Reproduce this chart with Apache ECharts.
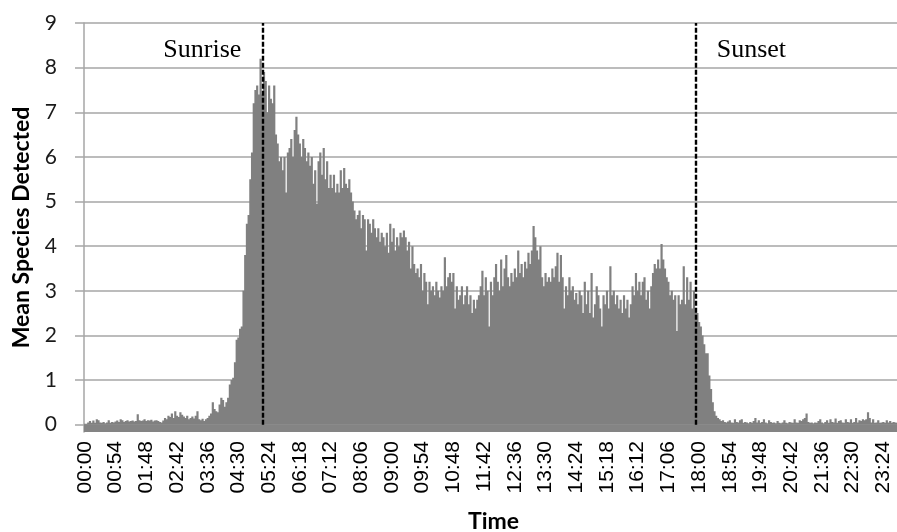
<!DOCTYPE html>
<html>
<head>
<meta charset="utf-8">
<script src="https://cdn.jsdelivr.net/npm/echarts@6/dist/echarts.min.js"></script>
<style>
  html, body { margin: 0; padding: 0; background: #ffffff; overflow: hidden; }
  #chart { width: 897px; height: 532px; }
</style>
</head>
<body>
<div id="chart"></div>
<script>
// Mean number of species detected in each 3-minute slot of the day (00:00 .. 23:57)
const meanSpecies = [
  0.02,0.02,0.05,0.08,0.04,0.09,0.04,0.12,0.1,0.05,
  0.04,0.06,0.03,0.05,0.1,0.04,0.06,0.05,0.07,0.09,
  0.06,0.12,0.1,0.06,0.08,0.1,0.07,0.08,0.09,0.07,
  0.08,0.23,0.1,0.08,0.09,0.12,0.08,0.1,0.09,0.11,
  0.07,0.09,0.1,0.08,0.06,0.05,0.09,0.15,0.12,0.2,
  0.17,0.25,0.15,0.3,0.2,0.17,0.28,0.22,0.18,0.15,
  0.2,0.12,0.15,0.18,0.14,0.2,0.3,0.12,0.1,0.13,
  0.08,0.12,0.15,0.2,0.25,0.5,0.35,0.3,0.28,0.45,
  0.6,0.55,0.4,0.5,0.6,0.9,1.0,1.05,1.4,1.9,
  1.95,2.15,2.2,3.0,3.8,4.5,4.7,5.5,6.1,7.2,
  7.5,7.6,7.4,8.2,7.4,7.9,7.7,7.0,7.6,7.3,
  7.2,7.6,6.5,6.3,5.9,6.0,5.7,6.0,5.2,6.1,
  6.2,6.4,6.0,6.6,6.9,6.5,6.3,6.0,6.4,6.2,
  5.9,6.1,5.8,6.0,5.4,5.7,4.95,5.9,6.1,5.6,
  6.2,5.5,5.9,5.3,5.6,5.3,5.6,5.2,5.4,5.2,
  5.7,5.3,5.75,5.4,5.3,5.5,5.2,5.0,4.8,4.6,
  4.7,4.8,4.4,4.7,4.6,3.9,4.6,4.5,4.3,4.6,
  4.4,4.2,4.4,4.1,4.3,4.2,4.0,4.3,3.85,4.5,
  4.1,4.4,3.9,4.2,4.0,4.3,4.2,4.35,4.2,3.9,
  4.1,3.5,4.0,3.6,3.4,3.5,3.3,3.6,3.0,3.4,
  3.2,2.7,3.2,3.0,3.1,2.9,3.2,3.0,2.85,3.1,
  3.0,3.75,3.1,3.3,3.4,3.2,3.4,2.6,3.1,2.8,
  2.9,3.1,2.7,2.9,3.1,2.7,2.9,2.5,2.8,2.6,
  2.8,2.9,3.1,3.45,2.9,3.3,3.0,2.2,3.2,2.9,
  3.3,3.6,3.2,3.0,3.7,3.1,3.5,3.8,3.3,3.1,
  3.4,3.2,3.5,3.3,3.9,3.4,3.6,3.3,3.65,3.5,
  3.85,3.6,3.9,4.45,4.2,3.9,3.7,4.0,3.3,3.1,
  3.4,3.2,3.3,3.2,3.5,3.3,3.55,3.85,3.2,3.8,
  3.3,2.6,3.1,2.9,3.3,3.0,3.1,2.8,2.95,2.7,
  3.0,2.9,2.5,3.2,2.7,3.0,2.5,3.4,2.4,
  2.7,3.1,2.9,2.6,2.2,2.9,2.7,3.0,2.6,3.55,
  2.9,3.0,2.7,2.9,2.6,2.8,2.5,2.9,2.6,2.8,
  2.4,2.7,3.1,2.9,3.4,3.0,3.2,2.9,3.2,3.3,
  2.8,3.0,2.6,3.1,3.4,3.6,3.5,3.7,3.5,4.05,
  3.7,3.5,3.3,3.2,2.9,3.0,2.8,2.9,2.1,2.9,
  2.7,2.8,3.55,2.7,3.3,2.8,3.2,2.6,3.0,2.6,
  2.5,2.3,2.2,2.0,1.8,1.6,1.6,1.1,0.8,0.5,
  0.3,0.2,0.15,0.12,0.08,0.1,0.06,0.05,0.07,0.1,
  0.05,0.04,0.12,0.06,0.05,0.1,0.12,0.04,0.06,0.05,
  0.03,0.06,0.04,0.08,0.15,0.05,0.1,0.04,0.06,0.12,
  0.05,0.03,0.1,0.06,0.04,0.05,0.03,0.08,0.04,0.03,
  0.05,0.1,0.04,0.03,0.06,0.05,0.04,0.12,0.05,0.04,
  0.1,0.08,0.12,0.15,0.25,0.06,0.04,0.05,0.03,0.05,
  0.04,0.08,0.12,0.05,0.03,0.06,0.1,0.04,0.12,0.06,
  0.05,0.14,0.04,0.08,0.1,0.05,0.04,0.12,0.06,
  0.05,0.12,0.04,0.06,0.15,0.05,0.1,0.08,0.12,0.1,
  0.12,0.28,0.15,0.05,0.12,0.04,0.05,0.1,0.04,0.05,
  0.06,0.04,0.1,0.05,0.08,0.04,0.06,0.05,0.04,
  0.05,0.08,0.04
];

// Slot length in minutes and the spacing of the printed time labels
const slotMinutes = 3;
const labelEveryMinutes = 54;

// "HH:MM" start time of every slot
const timeLabels = [];
for (let m = 0; m < 24 * 60; m += slotMinutes) {
  const h = String(Math.floor(m / 60)).padStart(2, '0');
  const mm = String(m % 60).padStart(2, '0');
  timeLabels.push(h + ':' + mm);
}

// Value-axis tick labels
const yTickValues = [0, 1, 2, 3, 4, 5, 6, 7, 8, 9];

// Sunrise / sunset reference lines
const sunEvents = [
  { name: 'Sunrise', time: '05:12', side: 'left' },
  { name: 'Sunset',  time: '17:54', side: 'right' }
];
const sunLineTop = 9;
const sunLabelLevel = 8.4;

const barGrey = '#808080';
const gridGrey = '#a6a6a6';

const chart = echarts.init(document.getElementById('chart'), null, { renderer: 'canvas' });

chart.setOption({
  animation: false,
  backgroundColor: '#ffffff',
  grid: { left: 84, right: -6, top: 23, bottom: 100, containLabel: false, outerBoundsMode: 'none' },
  xAxis: {
    type: 'category',
    data: timeLabels,
    boundaryGap: true,
    name: 'Time',
    nameLocation: 'middle',
    nameGap: 78,
    nameTextStyle: { fontFamily: 'Lato', fontWeight: 'bold', fontSize: 23, color: '#000', verticalAlign: 'top' },
    axisLine: { show: true, lineStyle: { color: '#b4b4b4', width: 1.5 } },
    axisTick: { show: false },
    splitLine: { show: false },
    axisLabel: {
      interval: labelEveryMinutes / slotMinutes - 1,
      rotate: 90,
      margin: 9,
      fontFamily: 'Liberation Sans',
      fontSize: 21,
      color: '#000'
    }
  },
  yAxis: {
    type: 'value',
    min: -0.165,
    max: 9,
    name: 'Mean Species Detected',
    nameLocation: 'middle',
    nameGap: 51,
    nameTextStyle: { fontFamily: 'Lato', fontWeight: 'bold', fontSize: 23, color: '#000' },
    axisLine: { show: true, lineStyle: { color: gridGrey, width: 1.5 } },
    axisTick: { show: true, inside: false, length: 9, customValues: yTickValues, lineStyle: { color: gridGrey, width: 1.5 } },
    axisLabel: {
      customValues: yTickValues,
      margin: 27,
      fontFamily: 'Lato',
      fontSize: 21,
      color: '#1a1a1a'
    },
    splitLine: { show: true, lineStyle: { color: gridGrey, width: 1.5 } }
  },
  series: [{
    type: 'bar',
    data: meanSpecies,
    large: true,
    largeThreshold: 100,
    barWidth: 2.2,
    barCategoryGap: '0%',
    itemStyle: { color: barGrey },
    emphasis: { disabled: true },
    markArea: {
      silent: true,
      itemStyle: { color: '#848484', opacity: 1 },
      data: [[{ yAxis: -0.165 }, { yAxis: 0 }]]
    },
    markLine: {
      silent: true,
      symbol: ['none', 'none'],
      label: { show: false },
      lineStyle: { color: '#000', type: [5, 2], width: 2.4 },
      data: sunEvents.map(e => [
        { coord: [e.time, 0] },
        { coord: [e.time, sunLineTop] }
      ])
    },
    markPoint: {
      silent: true,
      symbol: 'circle',
      symbolSize: 0,
      data: sunEvents.map(e => ({
        name: e.name,
        coord: [e.time, sunLabelLevel],
        label: {
          show: true,
          formatter: e.name,
          position: e.side,
          distance: 21,
          fontFamily: 'Liberation Serif',
          fontSize: 26,
          color: '#000'
        }
      }))
    }
  }]
});
</script>
</body>
</html>
